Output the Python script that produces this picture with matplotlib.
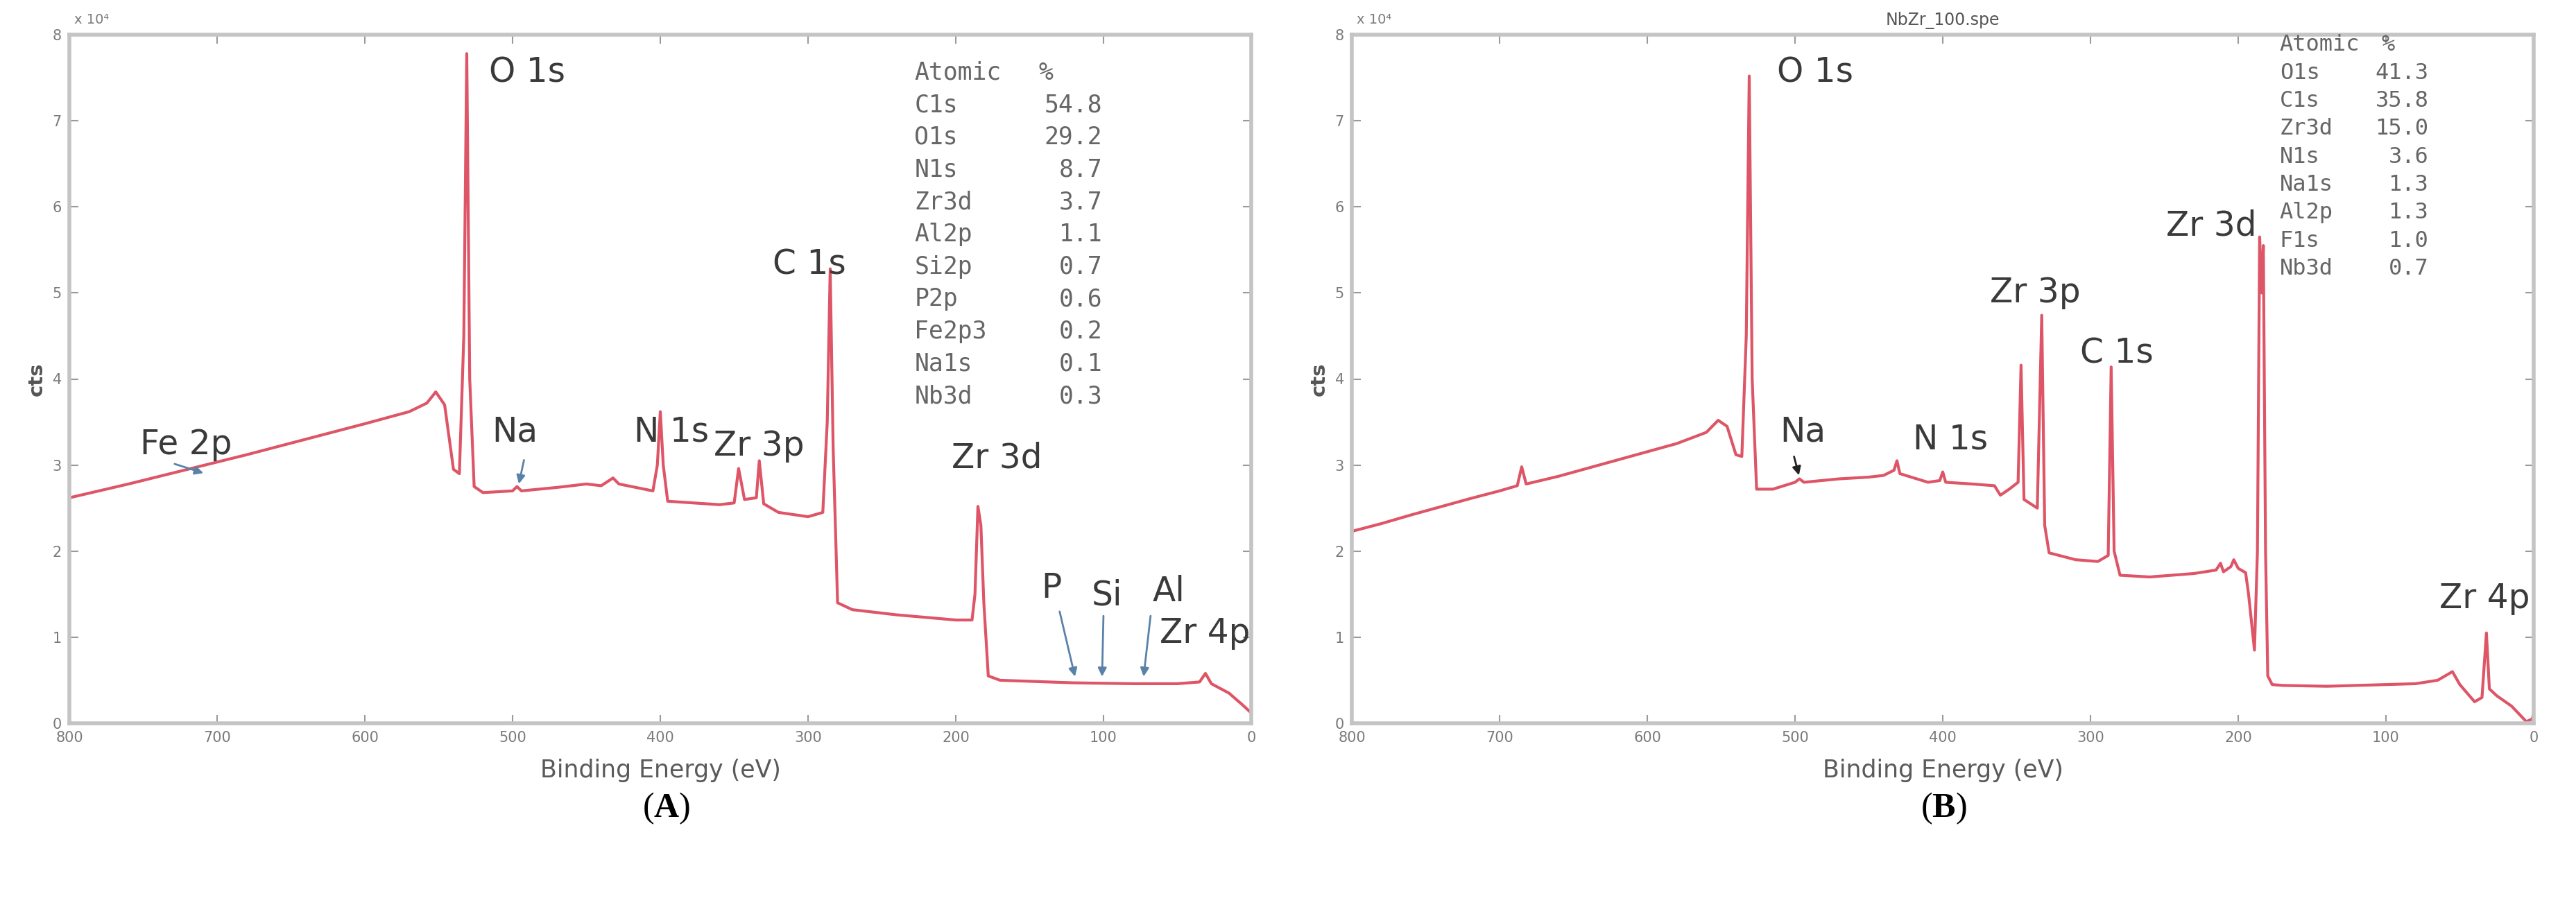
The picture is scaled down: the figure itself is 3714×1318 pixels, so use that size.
import matplotlib
matplotlib.use("Agg")
import matplotlib.pyplot as plt

plt.rcParams['mathtext.fontset'] = 'custom'
plt.rcParams['mathtext.rm'] = 'Liberation Serif'
plt.rcParams['mathtext.bf'] = 'Liberation Serif:bold'

# ---------------------- data (counts in units of 10^4) ----------------------
# panel A survey spectrum
be_a = [800, 760, 720, 680, 640, 600, 570, 558, 552, 546, 540, 536, 533, 531, 529, 526,
        520, 500, 497, 494, 470, 450, 440, 432, 428, 405, 402, 400, 398, 395, 360, 350,
        347, 343, 335, 333, 330, 320, 300, 290, 287, 285, 283, 280, 270, 240, 200, 189,
        187, 185, 183, 181, 178, 170, 120, 80, 50, 35, 31, 27, 15, 5, 0]
cts_a = [2.62, 2.78, 2.95, 3.12, 3.30, 3.48, 3.62, 3.72, 3.85, 3.70, 2.95, 2.90, 4.5, 7.78, 4.0, 2.75,
         2.68, 2.70, 2.75, 2.70, 2.74, 2.78, 2.76, 2.85, 2.78, 2.70, 3.0, 3.62, 3.0, 2.58, 2.54, 2.56,
         2.96, 2.60, 2.62, 3.05, 2.55, 2.45, 2.40, 2.45, 3.5, 5.28, 3.2, 1.40, 1.32, 1.26, 1.20, 1.20,
         1.5, 2.52, 2.3, 1.4, 0.55, 0.50, 0.47, 0.46, 0.46, 0.48, 0.58, 0.46, 0.35, 0.20, 0.12]

# panel B survey spectrum
be_b = [800, 780, 760, 720, 700, 688, 685, 682, 660, 620, 580, 560, 552, 546, 540, 536,
        533, 531, 529, 526, 515, 500, 497, 494, 470, 450, 440, 433, 431, 429, 410, 402,
        400, 398, 380, 365, 361, 355, 349, 347, 345, 336, 333, 331, 328, 310, 295, 288,
        286, 284, 280, 260, 230, 215, 212, 210, 205, 203, 200, 195, 193, 189, 187, 185.5,
        184, 183, 181.5, 180, 177, 170, 140, 100, 80, 65, 57, 55, 50, 40, 35, 32,
        30, 25, 15, 5, 1, 0]
cts_b = [2.23, 2.32, 2.42, 2.61, 2.70, 2.76, 2.98, 2.78, 2.87, 3.06, 3.25, 3.38, 3.52, 3.45, 3.12, 3.10,
         4.5, 7.52, 4.0, 2.72, 2.72, 2.80, 2.84, 2.80, 2.84, 2.86, 2.88, 2.94, 3.05, 2.90, 2.80, 2.82,
         2.92, 2.80, 2.78, 2.76, 2.65, 2.72, 2.80, 4.16, 2.60, 2.50, 4.74, 2.30, 1.98, 1.90, 1.88, 1.95,
         4.14, 2.0, 1.72, 1.70, 1.74, 1.78, 1.86, 1.76, 1.82, 1.90, 1.80, 1.75, 1.5, 0.85, 2.0, 5.65,
         5.0, 5.55, 2.0, 0.55, 0.45, 0.44, 0.43, 0.45, 0.46, 0.50, 0.58, 0.60, 0.45, 0.25, 0.30, 1.05,
         0.40, 0.32, 0.20, 0.02, 0.05, 0.12]

# quantification tables
tab_a_names = ['C1s', 'O1s', 'N1s', 'Zr3d', 'Al2p', 'Si2p', 'P2p', 'Fe2p3', 'Na1s', 'Nb3d']
tab_a_vals = ['54.8', '29.2', '8.7', '3.7', '1.1', '0.7', '0.6', '0.2', '0.1', '0.3']
tab_b_names = ['O1s', 'C1s', 'Zr3d', 'N1s', 'Na1s', 'Al2p', 'F1s', 'Nb3d']
tab_b_vals = ['41.3', '35.8', '15.0', '3.6', '1.3', '1.3', '1.0', '0.7']

xticks = list(range(800, -1, -100))
yticks = list(range(0, 9))
# ----------------------------------------------------------------------------

line_col = '#dd5566'
lab_col = '#3a3a3a'
arr_col = '#5a82a8'
W, H = 3714, 1318

fig = plt.figure(figsize=(W / 100, H / 100), dpi=100)
ax_a = fig.add_axes([100 / W, 275 / H, 1704 / W, 993 / H])
ax_b = fig.add_axes([1949 / W, 275 / H, 1704 / W, 993 / H])


def style_axes(ax):
    ax.set_xlim(800, 0)
    ax.set_ylim(0, 8)
    ax.set_xticks(xticks)
    ax.set_yticks(yticks)
    for s in ax.spines.values():
        s.set_color('#c4c4c4')
        s.set_linewidth(4)
    ax.tick_params(direction='in', top=True, right=True, length=9, width=1.5,
                   color='#9a9a9a', labelsize=15, labelcolor='#7a7a7a', pad=8)
    ax.set_xlabel('Binding Energy (eV)', fontsize=25, color='#5a5a5a', labelpad=14)
    ax.set_ylabel('cts', fontsize=21, color='#555555', labelpad=6, weight='bold')
    ax.text(0.004, 1.012, 'x 10\u2074', transform=ax.transAxes, fontsize=14,
            color='#7a7a7a', ha='left', va='bottom')


def label(ax, x, y, s, ha='left'):
    ax.text(x, y, s, fontsize=35, color=lab_col, ha=ha, va='center')


def arrow(ax, x0, y0, x1, y1, col=arr_col):
    ax.annotate('', xy=(x1, y1), xytext=(x0, y0),
                arrowprops=dict(arrowstyle='-|>', color=col, lw=2, mutation_scale=18))


# ----------------------------- panel A -------------------------------------
style_axes(ax_a)
ax_a.plot(be_a, cts_a, color=line_col, lw=3)

label(ax_a, 752, 3.24, 'Fe 2p')
arrow(ax_a, 730, 3.02, 708, 2.9)
label(ax_a, 516, 7.56, 'O 1s')
label(ax_a, 514, 3.39, 'Na')
arrow(ax_a, 492, 3.08, 496, 2.76)
label(ax_a, 418, 3.39, 'N 1s')
label(ax_a, 364, 3.22, 'Zr 3p')
label(ax_a, 324, 5.33, 'C 1s')
label(ax_a, 203, 3.08, 'Zr 3d')
label(ax_a, 142, 1.57, 'P')
arrow(ax_a, 130, 1.32, 119, 0.52)
label(ax_a, 108, 1.49, 'Si')
arrow(ax_a, 100, 1.27, 101, 0.52)
label(ax_a, 67, 1.53, 'Al')
arrow(ax_a, 68, 1.27, 73, 0.52)
label(ax_a, 62, 1.05, 'Zr 4p')

tx = 0.715
ax_a.text(tx, 0.945, 'Atomic', transform=ax_a.transAxes, family='DejaVu Sans Mono',
          fontsize=25, color='#666666', va='center')
ax_a.text(0.820, 0.945, '%', transform=ax_a.transAxes, family='DejaVu Sans Mono',
          fontsize=25, color='#666666', va='center')
for i, (n, v) in enumerate(zip(tab_a_names, tab_a_vals)):
    yy = 0.945 - 0.047 * (i + 1)
    ax_a.text(tx, yy, n, transform=ax_a.transAxes, family='DejaVu Sans Mono',
              fontsize=25, color='#666666', va='center')
    ax_a.text(0.874, yy, v, transform=ax_a.transAxes, family='DejaVu Sans Mono',
              fontsize=25, color='#666666', va='center', ha='right')

# ----------------------------- panel B -------------------------------------
style_axes(ax_b)
ax_b.plot(be_b, cts_b, color=line_col, lw=3)
ax_b.set_title('NbZr_100.spe', fontsize=17, color='#555555', pad=10)

label(ax_b, 512, 7.56, 'O 1s')
label(ax_b, 510, 3.39, 'Na')
arrow(ax_b, 501, 3.12, 497, 2.86, col='#222222')
label(ax_b, 420, 3.30, 'N 1s')
label(ax_b, 368, 5.0, 'Zr 3p')
label(ax_b, 307, 4.3, 'C 1s')
label(ax_b, 249, 5.78, 'Zr 3d')
label(ax_b, 64, 1.45, 'Zr 4p')

tx = 0.785
ax_b.text(tx, 0.985, 'Atomic', transform=ax_b.transAxes, family='DejaVu Sans Mono',
          fontsize=23, color='#666666', va='center')
ax_b.text(0.871, 0.985, '%', transform=ax_b.transAxes, family='DejaVu Sans Mono',
          fontsize=23, color='#666666', va='center')
for i, (n, v) in enumerate(zip(tab_b_names, tab_b_vals)):
    yy = 0.985 - 0.0406 * (i + 1)
    ax_b.text(tx, yy, n, transform=ax_b.transAxes, family='DejaVu Sans Mono',
              fontsize=23, color='#666666', va='center')
    ax_b.text(0.911, yy, v, transform=ax_b.transAxes, family='DejaVu Sans Mono',
              fontsize=23, color='#666666', va='center', ha='right')

# ----------------------------- captions ------------------------------------
fig.text(961 / W, 1 - 1166 / H, r'($\mathbf{A}$)', family='Liberation Serif',
         fontsize=36, ha='center', va='center')
fig.text(2802 / W, 1 - 1166 / H, r'($\mathbf{B}$)', family='Liberation Serif',
         fontsize=36, ha='center', va='center')

fig.savefig('out.png', dpi=100, facecolor='white')
